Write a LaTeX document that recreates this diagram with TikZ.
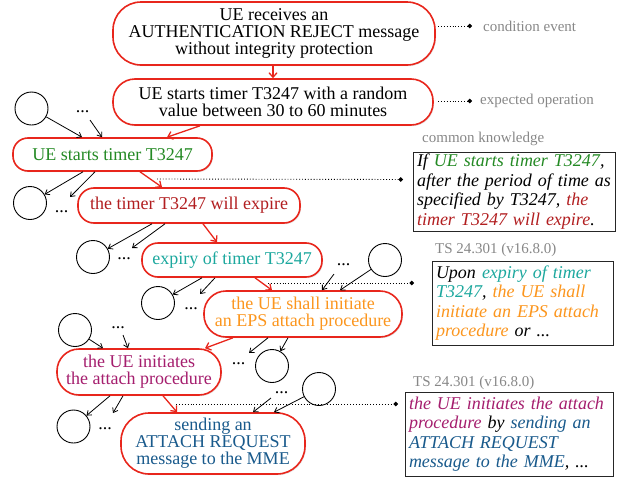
\documentclass[tikz,border=0pt]{standalone}
\usepackage{fontspec}
\setmainfont{Liberation Serif}
\usetikzlibrary{arrows.meta,shadows}
\definecolor{myred}{RGB}{232,38,28}
\definecolor{cgreen}{RGB}{36,138,36}
\definecolor{cdred}{RGB}{178,30,32}
\definecolor{cteal}{RGB}{28,168,158}
\definecolor{corange}{RGB}{252,150,30}
\definecolor{cpurple}{RGB}{165,30,110}
\definecolor{cblue}{RGB}{25,90,140}
\definecolor{cgray}{RGB}{135,135,135}
\newcommand{\boxline}[1]{\mbox{#1}}
\tikzset{
  flow/.style={draw=myred, line width=1.6pt, fill=white, inner sep=0pt, align=center,
    font=\fontsize{18}{17}\selectfont,
    drop shadow={opacity=0.2, shadow xshift=1pt, shadow yshift=-1.2pt}},
  kbox/.style={draw=black!85, line width=1pt, fill=white, inner xsep=4pt, inner ysep=0pt,
    align=left, font=\itshape\fontsize{18}{19.5}\selectfont,
    drop shadow={opacity=0.25, shadow xshift=1pt, shadow yshift=-1.2pt}},
  circ/.style={circle, draw=black, line width=0.9pt, fill=white, minimum size=33pt, inner sep=0pt},
  dots/.style={inner sep=0.5pt, font=\fontsize{18}{18}\selectfont},
  glabel/.style={text=cgray, font=\fontsize{15}{15}\selectfont, inner sep=0pt, anchor=west},
  redarrow/.style={draw=myred, line width=1.3pt, -{Straight Barb[length=4.5pt,width=8pt]}},
  blkarrow/.style={draw=black, line width=0.8pt, -{Straight Barb[length=4pt,width=6pt]}},
  dotline/.style={draw=black, line width=0.9pt, dotted, -{Circle[length=4.5pt]}}
}
\begin{document}
\begin{tikzpicture}[x=1pt,y=-1pt]
\useasboundingbox (0,0) rectangle (622,477);

% flow nodes
\node[flow, minimum width=322pt, minimum height=63pt, rounded corners=28pt] (n1) at (274,33.5)
  {UE receives an\\AUTHENTICATION REJECT message\\without integrity protection};
\node[flow, minimum width=320pt, minimum height=46pt, rounded corners=22pt] (n2) at (273,102)
  {UE starts timer T3247 with a random\\value between 30 to 60 minutes};
\node[flow, minimum width=199pt, minimum height=33pt, rounded corners=15pt, text=cgreen] (n3) at (112.5,154.5)
  {UE starts timer T3247};
\node[flow, minimum width=222pt, minimum height=35pt, rounded corners=16pt, text=cdred] (n4) at (189,205.5)
  {the timer T3247 will expire};
\node[flow, minimum width=180pt, minimum height=34pt, rounded corners=16pt, text=cteal] (n5) at (232,260)
  {expiry of timer T3247};
\node[flow, minimum width=198pt, minimum height=46pt, rounded corners=22pt, text=corange] (n6) at (303,314)
  {the UE shall initiate\\an EPS attach procedure};
\node[flow, minimum width=164pt, minimum height=46pt, rounded corners=22pt, text=cpurple] (n7) at (139,372)
  {the UE initiates\\the attach procedure};
\node[flow, minimum width=184pt, minimum height=61pt, rounded corners=28pt, text=cblue] (n8) at (213,443.5)
  {sending an\\ATTACH REQUEST\\message to the MME};

% circles
\node[circ] (c1) at (31.5,108.5) {};
\node[circ] (c2) at (30,203) {};
\node[circ] (c3) at (93,257) {};
\node[circ] (c4) at (158,303) {};
\node[circ] (c5) at (385,260) {};
\node[circ] (c6) at (75,330) {};
\node[circ] (c7) at (272,366) {};
\node[circ] (c8) at (319,389) {};
\node[circ] (c9) at (73.5,426.5) {};

% dots
\node[dots] (d1) at (82.5,112) {...};
\node[dots] (d2) at (61.5,212) {...};
\node[dots] (d3) at (124,259) {...};
\node[dots] (d4) at (191,309) {...};
\node[dots] (d5) at (343.5,265) {...};
\node[dots] (d6) at (118,328) {...};
\node[dots] (d7) at (238.5,364) {...};
\node[dots] (d8) at (281.5,393) {...};
\node[dots] (d9) at (105,429) {...};

% arrow tails/heads near dots
\coordinate (t1) at (90,120);
\coordinate (t2) at (70,197);
\coordinate (t3) at (132,248);
\coordinate (t4) at (200,294);
\coordinate (t5) at (334,274);
\coordinate (t6) at (123,335);
\coordinate (t7) at (249,353);
\coordinate (t8) at (271,398);
\coordinate (t9) at (113,413);

% red flow arrows
\draw[redarrow] (273,0 |- n1.south) -- (273,0 |- n2.north);
\draw[redarrow] (200,0 |- n2.south) -- (167,0 |- n3.north);
\draw[redarrow] (140,0 |- n3.south) -- (162,0 |- n4.north);
\draw[redarrow] (203,0 |- n4.south) -- (217,0 |- n5.north);
\draw[redarrow] (255,0 |- n5.south) -- (272,0 |- n6.north);
\draw[redarrow] (233,0 |- n6.south) -- (205,0 |- n7.north);
\draw[redarrow] (163,0 |- n7.south) -- (177,0 |- n8.north);

% black arrows
\draw[blkarrow] (c1) -- (82,0 |- n3.north);
\draw[blkarrow] (t1) -- (102,0 |- n3.north);
\draw[blkarrow] (83,0 |- n3.south) -- (c2);
\draw[blkarrow] (95,0 |- n3.south) -- (t2);
\draw[blkarrow] (152,0 |- n4.south) -- (c3);
\draw[blkarrow] (165,0 |- n4.south) -- (t3);
\draw[blkarrow] (202,0 |- n5.south) -- (c4);
\draw[blkarrow] (215,0 |- n5.south) -- (t4);
\draw[blkarrow] (c5) -- (340,0 |- n6.north);
\draw[blkarrow] (t5) -- (322,0 |- n6.north);
\draw[blkarrow] (c6) -- (103,0 |- n7.north);
\draw[blkarrow] (t6) -- (128,0 |- n7.north);
\draw[blkarrow] (268,0 |- n6.south) -- (t7);
\draw[blkarrow] (288,0 |- n6.south) -- (c7);
\draw[blkarrow] (t8) -- (253,0 |- n8.north);
\draw[blkarrow] (c8) -- (274,0 |- n8.north);
\draw[blkarrow] (110,0 |- n7.south) -- (c9);
\draw[blkarrow] (123,0 |- n7.south) -- (t9);

% boxes
\node[kbox, text width=194pt, minimum height=79pt] (b1) at (514,191.5)
  {\boxline{If \textcolor{cgreen}{UE starts timer T3247},}\\\boxline{after the period of time as}\\\boxline{specified by T3247, \textcolor{cdred}{the}}\\\boxline{\textcolor{cdred}{timer T3247 will expire}.}};
\node[kbox, text width=173pt, minimum height=84pt] (b2) at (522.5,303)
  {\boxline{Upon \textcolor{cteal}{expiry of timer}}\\\boxline{\textcolor{cteal}{T3247}, \textcolor{corange}{the UE shall}}\\\boxline{\textcolor{corange}{initiate an EPS attach}}\\\boxline{\textcolor{corange}{procedure} or ...}};
\node[kbox, text width=200pt, minimum height=84pt] (b3) at (509,434)
  {\boxline{\textcolor{cpurple}{the UE initiates the attach}}\\\boxline{\textcolor{cpurple}{procedure} by \textcolor{cblue}{sending an}}\\\boxline{\textcolor{cblue}{ATTACH REQUEST}}\\\boxline{\textcolor{cblue}{message to the MME}, ...}};

% gray labels
\node[glabel] (l1) at (483,26) {condition event};
\node[glabel] (l2) at (480,101) {expected operation};
\node[glabel] (l3) at (422,139) {common knowledge};
\node[glabel] (l4) at (435,250) {TS 24.301 (v16.8.0)};
\node[glabel] (l5) at (413,383) {TS 24.301 (v16.8.0)};

% dotted connectors
\coordinate (q1s) at (438,26);   \coordinate (q1e) at (472,26);
\coordinate (q2s) at (438,101);  \coordinate (q2e) at (472,101);
\coordinate (q3s) at (157,179);  \coordinate (q3e) at (403,179.5);
\coordinate (q4s) at (268,283);  \coordinate (q4e) at (414,283);
\coordinate (q5s) at (176,404);  \coordinate (q5e) at (398,404);
\draw[dotline] (q1s) -- (q1e);
\draw[dotline] (q2s) -- (q2e);
\draw[dotline] (q3s) -- (q3e);
\draw[dotline] (q4s) -- (q4e);
\draw[dotline] (q5s) -- (q5e);
\end{tikzpicture}
\end{document}
